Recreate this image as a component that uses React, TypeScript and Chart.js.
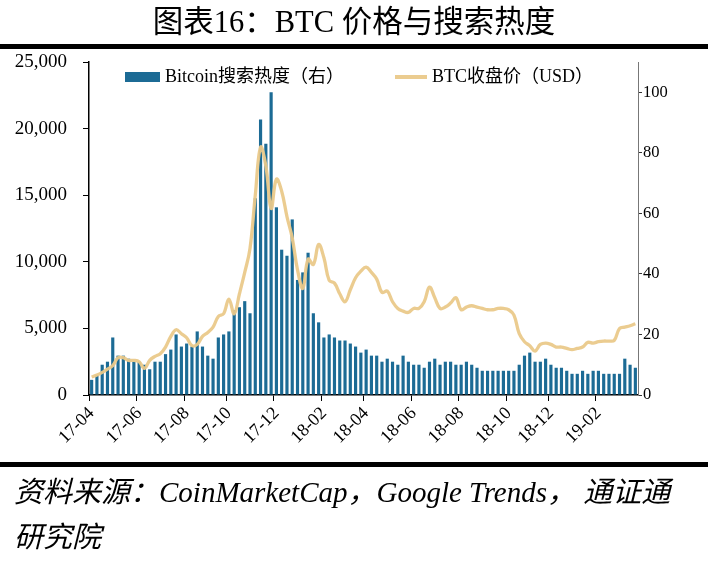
import React, { useEffect, useRef } from 'react';
import { Chart, registerables } from 'chart.js';

Chart.register(...registerables);

// Weekly series, first week starting 2017-04-02
const START_YEAR = 2017;
const START_MONTH = 3; // April (0-based)
const START_DAY = 2;

// Bitcoin search interest (right axis, Google Trends index)
const searchHeat = [
  5, 6.5, 10, 11, 19, 13, 13, 12, 11, 11,
  10, 8.5, 11, 11, 13.5, 15, 20, 16, 17, 16,
  21, 16, 13, 12, 19, 20, 21, 28, 29, 31,
  27, 65, 91, 83, 100, 62, 48, 46, 58, 38,
  40.5, 47, 27, 24, 19, 20, 19, 18, 18, 17,
  16, 14, 15, 13, 13, 11, 12, 11, 10, 13,
  11, 10, 10, 9, 11, 12, 10, 11, 11, 10,
  10, 11, 10, 9, 8, 8, 8, 8, 8, 8,
  8, 10, 13, 14, 11, 11, 12, 10, 9, 9,
  8, 7, 7, 8, 7, 8, 8, 7, 7, 7,
  7, 12, 10, 9,
];

// BTC weekly close in USD (left axis)
const btcClose = [
  1350, 1500, 1700, 1950, 2200, 2800, 2800, 2600, 2600, 2500,
  2000, 2600, 2900, 3100, 3600, 4400, 4900, 4600, 4300, 3700,
  3800, 4400, 4700, 5100, 5900, 6100, 7200, 6100, 7600, 9200,
  11000, 15000, 18600, 17200, 14000, 16200, 15300, 13400, 11800, 9400,
  8000, 10200, 9800, 11300, 10300, 8600, 8400, 7600, 7000, 7900,
  8800, 9300, 9600, 9200, 8700, 7700, 7800, 7000, 6500, 6300,
  6200, 6500, 6500, 7000, 8100, 7300, 6500, 6600, 6900, 7300,
  6400, 6600, 6700, 6600, 6500, 6400, 6400, 6500, 6500, 6400,
  6000, 4600, 4000, 3700, 3300, 3800, 3900, 3800, 3600, 3600,
  3500, 3400, 3500, 3600, 3950, 3900, 4000, 4050, 4050, 4100,
  5000, 5100, 5200, 5350,
];

// Month labels shown on the x axis
const tickMonths = ['17-04', '17-06', '17-08', '17-10', '17-12', '18-02', '18-04', '18-06', '18-08', '18-10', '18-12', '19-02'];

const seriesNames = ['Bitcoin搜索热度（右）', 'BTC收盘价（USD）'];

const BAR_COLOR = '#1C6B95';
const LINE_COLOR = 'rgba(234,201,138,0.95)';
const FONT = '"Liberation Serif", "Noto Sans CJK SC", serif';

const weekLabels = searchHeat.map((_, i) => {
  const d = new Date(Date.UTC(START_YEAR, START_MONTH, START_DAY + 7 * i));
  return String(d.getUTCFullYear()).slice(2) + '-' + String(d.getUTCMonth() + 1).padStart(2, '0');
});

const isMonthTick = (i: number) =>
  i >= 0 && i < weekLabels.length && tickMonths.includes(weekLabels[i]) && (i === 0 || weekLabels[i - 1] !== weekLabels[i]);

const legendPlugin = {
  id: 'insideLegend',
  afterDraw(chart: any) {
    const ctx = chart.ctx;
    const area = chart.chartArea;
    const y = area.top + 15;
    ctx.save();
    ctx.font = '18px ' + FONT;
    ctx.textBaseline = 'middle';
    ctx.fillStyle = BAR_COLOR;
    const x1 = area.left + 36;
    ctx.fillRect(x1, y - 5, 35, 10);
    ctx.fillStyle = '#000';
    ctx.fillText(chart.data.datasets[0].label, x1 + 40, y);
    const x2 = area.left + 306;
    ctx.strokeStyle = LINE_COLOR;
    ctx.lineWidth = 4;
    ctx.beginPath();
    ctx.moveTo(x2, y);
    ctx.lineTo(x2 + 32, y);
    ctx.stroke();
    ctx.fillText(chart.data.datasets[1].label, x2 + 37, y);
    ctx.restore();
  },
};

function ChartCanvas() {
  const ref = useRef<HTMLCanvasElement>(null);
  useEffect(() => {
    if (!ref.current) return;
    const chart = new Chart(ref.current, {
      type: 'bar',
      data: {
        labels: weekLabels,
        datasets: [
          {
            type: 'bar',
            label: seriesNames[0],
            data: searchHeat,
            backgroundColor: BAR_COLOR,
            yAxisID: 'y1',
            categoryPercentage: 1,
            barPercentage: 0.6,
            order: 1,
          },
          {
            type: 'line',
            label: seriesNames[1],
            data: btcClose,
            borderColor: LINE_COLOR,
            borderWidth: 3.3,
            pointRadius: 0,
            tension: 0.4,
            yAxisID: 'y',
            order: 0,
          } as any,
        ],
      },
      options: {
        responsive: false,
        animation: false,
        devicePixelRatio: 1,
        layout: { padding: { top: 62, left: 0, right: 0, bottom: 0 } },
        plugins: { legend: { display: false }, tooltip: { enabled: false } },
        scales: {
          x: {
            grid: {
              offset: true,
              drawOnChartArea: false,
              drawTicks: true,
              tickLength: 6,
              tickColor: (c: any) => (isMonthTick(c.index) ? '#000' : 'rgba(0,0,0,0)'),
            },
            border: { display: true, color: '#000', width: 1.5 },
            ticks: {
              autoSkip: false,
              maxRotation: 45,
              minRotation: 45,
              padding: 2,
              color: '#000',
              font: { family: FONT, size: 18 },
              callback: (_v: any, i: number) => (isMonthTick(i) ? weekLabels[i] : ''),
            },
            afterFit: (s: any) => { s.height = 561 - 395; },
          },
          y: {
            position: 'left',
            min: 0,
            max: 25000,
            grid: { drawOnChartArea: false, drawTicks: true, tickLength: 6, tickColor: '#000' },
            border: { display: true, color: '#000', width: 1.5 },
            ticks: {
              stepSize: 5000,
              padding: 16,
              color: '#000',
              font: { family: FONT, size: 19 },
            },
            afterFit: (s: any) => { s.width = 89; },
          },
          y1: {
            position: 'right',
            min: 0,
            max: 110,
            grid: {
              drawOnChartArea: false,
              drawTicks: true,
              tickLength: 4,
              tickColor: (c: any) => (c.tick && c.tick.value === 110 ? 'rgba(0,0,0,0)' : '#333'),
            },
            border: { display: true, color: '#777', width: 1 },
            ticks: {
              stepSize: 20,
              padding: 1,
              color: '#000',
              font: { family: FONT, size: 16.5 },
              callback: (v: any) => (v === 110 ? '' : String(v)),
            },
            afterFit: (s: any) => { s.width = 708 - 638; },
          },
        },
      },
      plugins: [legendPlugin],
    });
    return () => chart.destroy();
  }, []);
  return <canvas ref={ref} width={708} height={561} style={{ position: 'absolute', left: 0, top: 0 }} />;
}

export default function App() {
  return (
    <div style={{ position: 'absolute', left: 0, top: 0, width: 708, height: 561, background: '#fff', overflow: 'hidden' }}>
      <ChartCanvas />
      <div
        style={{
          position: 'absolute', left: 0, top: 7, width: 708, textAlign: 'center',
          fontFamily: FONT, fontSize: 30.5, lineHeight: '30px', color: '#000',
        }}
      >
        图表16：BTC 价格与搜索热度
      </div>
      <div style={{ position: 'absolute', left: 0, top: 44, width: 708, height: 5, background: '#000' }} />
      <div style={{ position: 'absolute', left: 0, top: 462, width: 708, height: 5, background: '#000' }} />
      <div
        style={{
          position: 'absolute', left: 14, top: 470, width: 694,
          fontFamily: FONT, fontStyle: 'italic', fontSize: 29, lineHeight: '45px', color: '#000', whiteSpace: 'nowrap',
        }}
      >
        资料来源：CoinMarketCap，Google Trends， 通证通
        <br />
        研究院
      </div>
    </div>
  );
}
